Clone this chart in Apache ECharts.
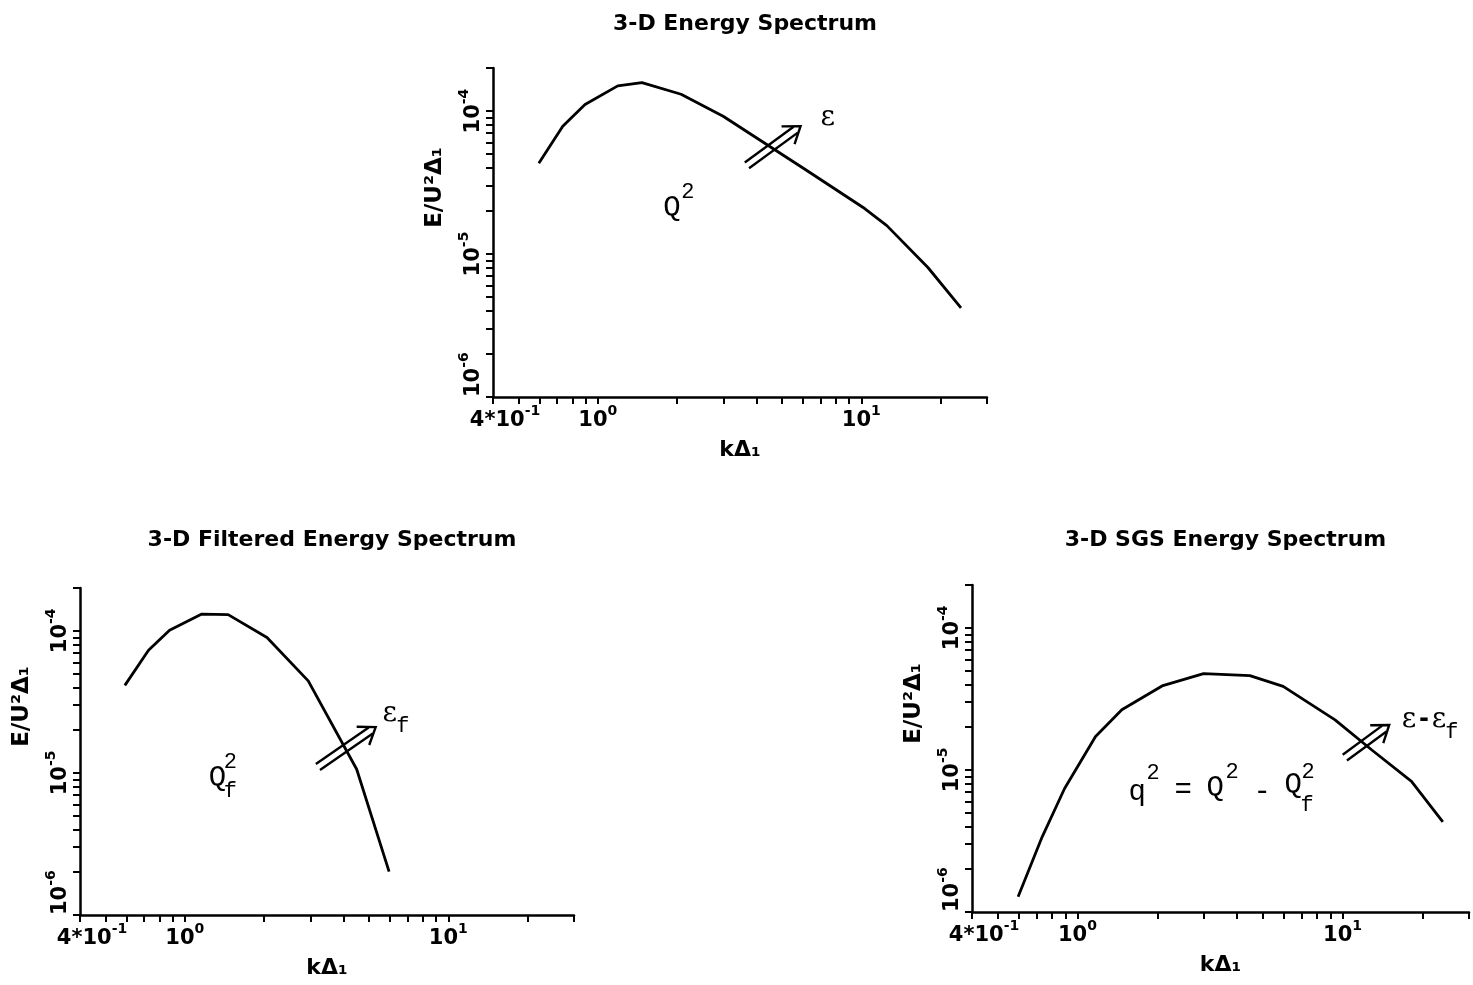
<!DOCTYPE html>
<html><head><meta charset="utf-8">
<script src="https://cdn.jsdelivr.net/npm/echarts@6/dist/echarts.min.js"></script>
<style>html,body{margin:0;padding:0;background:#fff}#main{width:1473px;height:985px}</style>
</head><body><div id="main"></div>
<script>
// ---------- data ----------
const kTotal = [0.597, 0.736, 0.894, 1.19, 1.47, 2.07, 2.99, 6.17, 10.3, 12.5, 17.9, 23.9];
const eTotal = [4.31e-5, 7.83e-5, 1.11e-4, 1.50e-4, 1.58e-4, 1.31e-4, 9.2e-5, 3.87e-5, 2.08e-5, 1.58e-5, 8.05e-6, 4.2e-6];

const kFilt = [0.592, 0.728, 0.875, 1.16, 1.46, 2.05, 2.94, 4.49, 5.96];
const eFilt = [4.13e-5, 7.3e-5, 1.01e-4, 1.31e-4, 1.30e-4, 8.97e-5, 4.44e-5, 1.06e-5, 2.02e-6];

const kSgs = [0.597, 0.736, 0.894, 1.17, 1.47, 2.1, 2.99, 4.47, 5.97, 9.37, 12.9, 18.2, 23.9];
const eSgs = [1.28e-6, 3.38e-6, 7.4e-6, 1.72e-5, 2.65e-5, 3.92e-5, 4.76e-5, 4.6e-5, 3.87e-5, 2.25e-5, 1.38e-5, 8.3e-6, 4.3e-6];

const titles = ['3-D Energy Spectrum', '3-D Filtered Energy Spectrum', '3-D SGS Energy Spectrum'];
const xName = 'kΔ₁';
const yName = 'E/U²Δ₁';

const xTickValues = [0.4, 0.5, 0.6, 0.7, 0.8, 0.9, 1, 2, 3, 4, 5, 6, 7, 8, 9, 10, 20, 30];
const yTickValues = [1e-6, 2e-6, 3e-6, 4e-6, 5e-6, 6e-6, 7e-6, 8e-6, 9e-6,
                     1e-5, 2e-5, 3e-5, 4e-5, 5e-5, 6e-5, 7e-5, 8e-5, 9e-5, 1e-4, 2e-4];
const xLabelValues = [0.4, 1, 10];
const xLabelBase = ['4*10', '10', '10'];
const xLabelExp = ['-1', '0', '1'];
const yLabelValues = [1e-6, 1e-5, 1e-4];
const yLabelBase = ['10', '10', '10'];
const yLabelExp = ['-6', '-5', '-4'];

// arrows: [kTail, eTail, kTip, eTip]
const arrowTotal = [3.68, 4.17e-5, 5.88, 7.84e-5];
const arrowFilt = [3.2, 1.1e-5, 5.3, 2.1e-5];
const arrowSgs = [10.2, 1.22e-5, 15.0, 2.07e-5];

// annotation anchors [k, E]
const annTotalEps = [7.46, 8.93e-5];
const annTotalQ = [1.91, 2.1e-5];
const annFiltEps = [6.0, 2.6e-5];
const annFiltQ = [1.33, 9.1e-6];
const annSgsEps = [17.8, 2.25e-5];
const annSgsEq = [1.68, 7.0e-6];

// ---------- styles ----------
const FONT = 'DejaVu Sans';
const MONO = 'Liberation Mono';
const SERIF = 'DejaVu Serif';
const grids = [
  {left: 493, top: 68, width: 494, height: 329},
  {left: 80, top: 588, width: 494, height: 327},
  {left: 972, top: 585, width: 497, height: 327}
];

function near(a, b) { return Math.abs(a - b) <= Math.abs(b) * 1e-6; }
function fmtFrom(vals, base, exp, firstStyle) {
  return function (v) {
    for (let i = 0; i < vals.length; i++) {
      if (near(v, vals[i])) {
        const bs = (i === 0 && firstStyle) ? firstStyle : 'b';
        return '{' + bs + '|' + base[i] + '}{s|' + exp[i] + '}';
      }
    }
    return '';
  };
}
const labelRich = {
  b: {fontFamily: FONT, fontSize: 21, fontWeight: 'bold', color: '#000', lineHeight: 22, padding: [8, 0, 0, 0]},
  b0: {fontFamily: FONT, fontSize: 21, fontWeight: 'bold', color: '#000', lineHeight: 22, padding: [8, 0, 0, 24]},
  s: {fontFamily: FONT, fontSize: 14, fontWeight: 'bold', color: '#000', lineHeight: 14, padding: [0, 0, 12, 0]}
};

function xAxisFor(gi) {
  return {
    type: 'log', logBase: 10, gridIndex: gi, min: 0.4, max: 30,
    name: xName, nameLocation: 'middle', nameGap: 42,
    nameTextStyle: {fontFamily: FONT, fontSize: 22, color: '#000', fontWeight: 'bold'},
    axisLine: {show: true, onZero: false, lineStyle: {color: '#000', width: 2.5}},
    axisTick: {show: true, inside: false, length: 7, customValues: xTickValues, lineStyle: {color: '#000', width: 2}},
    axisLabel: {show: true, customValues: xLabelValues, formatter: fmtFrom(xLabelValues, xLabelBase, xLabelExp, 'b0'),
      rich: labelRich, margin: 9},
    splitLine: {show: false}, minorTick: {show: false}, minorSplitLine: {show: false}
  };
}
function yAxisFor(gi) {
  return {
    type: 'log', logBase: 10, gridIndex: gi, min: 1e-6, max: 2e-4,
    name: yName, nameLocation: 'middle', nameGap: 46,
    nameTextStyle: {fontFamily: FONT, fontSize: 23, color: '#000', fontWeight: 'bold', padding: [0, 0, 0, 90]},
    axisLine: {show: true, onZero: false, lineStyle: {color: '#000', width: 2.5}},
    axisTick: {show: true, inside: false, length: 7, customValues: yTickValues, lineStyle: {color: '#000', width: 2}},
    axisLabel: {show: true, rotate: 90, customValues: yLabelValues, formatter: fmtFrom(yLabelValues, yLabelBase, yLabelExp),
      rich: labelRich, margin: 12, alignMinLabel: 'left'},
    splitLine: {show: false}, minorTick: {show: false}, minorSplitLine: {show: false}
  };
}

function zip(a, b) { return a.map((v, i) => [v, b[i]]); }

function lineSeries(gi, k, e) {
  return {
    type: 'line', xAxisIndex: gi, yAxisIndex: gi, data: zip(k, e),
    showSymbol: false, symbol: 'none', smooth: false, silent: true,
    lineStyle: {color: '#000', width: 2.8}, z: 3
  };
}

function renderArrow(params, api) {
  const a = api.coord([api.value(0), api.value(1)]);
  const b = api.coord([api.value(2), api.value(3)]);
  const dx = b[0] - a[0], dy = b[1] - a[1];
  const L = Math.hypot(dx, dy);
  const ux = dx / L, uy = dy / L, nx = -uy, ny = ux;
  const off = 3.6, head = 19, ang = 0.62, shaftLen = L - 6;
  const ls = {stroke: '#000', lineWidth: 2.4, fill: null};
  const rot = (x, y, t) => [x * Math.cos(t) - y * Math.sin(t), x * Math.sin(t) + y * Math.cos(t)];
  const w1 = rot(-ux, -uy, ang), w2 = rot(-ux, -uy, -ang);
  return {
    type: 'group',
    children: [
      {type: 'line', shape: {x1: a[0] + nx * off, y1: a[1] + ny * off, x2: a[0] + ux * shaftLen + nx * off, y2: a[1] + uy * shaftLen + ny * off}, style: ls},
      {type: 'line', shape: {x1: a[0] - nx * off, y1: a[1] - ny * off, x2: a[0] + ux * shaftLen - nx * off, y2: a[1] + uy * shaftLen - ny * off}, style: ls},
      {type: 'polyline', shape: {points: [[b[0] + w1[0] * head, b[1] + w1[1] * head], [b[0], b[1]], [b[0] + w2[0] * head, b[1] + w2[1] * head]]}, style: ls}
    ]
  };
}
function arrowSeries(gi, arr) {
  return {type: 'custom', xAxisIndex: gi, yAxisIndex: gi, silent: true, data: [arr], renderItem: renderArrow, z: 4};
}

// text parts: [text, dx, dy, font]
const EPS = 'normal 28px ' + SERIF;
const BIG = 'normal 29px ' + MONO;
const SMALL = 'normal 22px ' + MONO;
const DASH = 'bold 24px ' + FONT;
const partsTotalEps = [['ε', 0, 0, EPS]];
const partsTotalQ = [['Q', 0, 0, BIG], ['2', 16, -16, SMALL]];
const partsFiltEps = [['ε', 0, 0, EPS], ['f', 13, 12, SMALL]];
const partsFiltQ = [['Q', 0, 0, BIG], ['2', 13, -17, SMALL], ['f', 13, 12, SMALL]];
const partsSgsEps = [['ε', 0, 0, EPS], ['-', 15, 0, DASH], ['ε', 30, 0, EPS], ['f', 43, 12, SMALL]];
const partsSgsEq = [['q', 0, 0, BIG], ['2', 16, -19, SMALL], ['=', 46, -2, BIG], ['Q', 78, -4, BIG], ['2', 95, -20, SMALL],
                    ['-', 125, 0, BIG], ['Q', 156, -7, BIG], ['2', 171, -20, SMALL], ['f', 170, 13, SMALL]];

function textSeries(gi, anchor, parts) {
  return {
    type: 'custom', xAxisIndex: gi, yAxisIndex: gi, silent: true, data: [anchor], z: 5,
    renderItem: function (params, api) {
      const p = api.coord([api.value(0), api.value(1)]);
      return {
        type: 'group',
        children: parts.map(q => ({
          type: 'text', x: p[0] + q[1], y: p[1] + q[2],
          style: {text: q[0], font: q[3], fill: '#000', align: 'center', verticalAlign: 'middle'}
        }))
      };
    }
  };
}

const titleCenters = grids.map(g => g.left + g.width / 2);
const titleTops = [8, 524, 524];

const option = {
  backgroundColor: '#fff',
  animation: false,
  title: titles.map((t, i) => ({
    text: t, left: titleCenters[i], top: titleTops[i], textAlign: 'center',
    textStyle: {fontFamily: FONT, fontSize: 22, fontWeight: 'bold', color: '#000'}
  })),
  grid: grids,
  xAxis: [0, 1, 2].map(xAxisFor),
  yAxis: [0, 1, 2].map(yAxisFor),
  series: [
    lineSeries(0, kTotal, eTotal),
    lineSeries(1, kFilt, eFilt),
    lineSeries(2, kSgs, eSgs),
    arrowSeries(0, arrowTotal),
    arrowSeries(1, arrowFilt),
    arrowSeries(2, arrowSgs),
    textSeries(0, annTotalEps, partsTotalEps),
    textSeries(0, annTotalQ, partsTotalQ),
    textSeries(1, annFiltEps, partsFiltEps),
    textSeries(1, annFiltQ, partsFiltQ),
    textSeries(2, annSgsEps, partsSgsEps),
    textSeries(2, annSgsEq, partsSgsEq)
  ]
};

const chart = echarts.init(document.getElementById('main'), null, {renderer: 'canvas'});
chart.setOption(option);
</script>
</body></html>
